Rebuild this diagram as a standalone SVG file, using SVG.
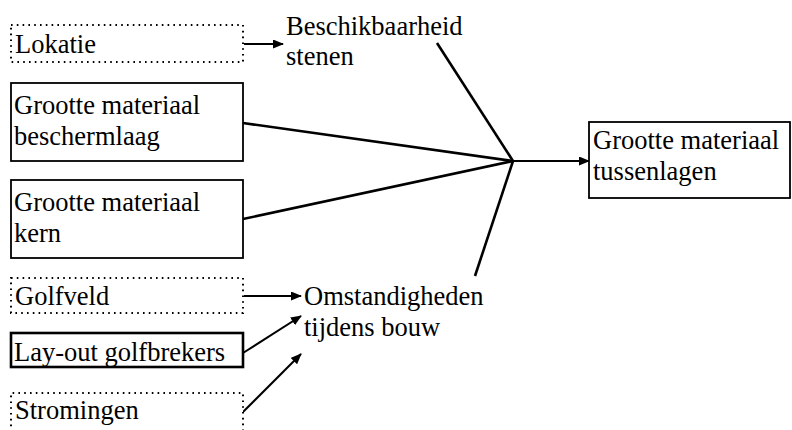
<svg xmlns="http://www.w3.org/2000/svg" width="792" height="430" viewBox="0 0 792 430">
  <defs>
    <marker id="arrow" markerWidth="11" markerHeight="9" refX="10" refY="4.5" orient="auto" markerUnits="userSpaceOnUse">
      <path d="M0,0 L11,4.5 L0,9 Z" fill="#000"/>
    </marker>
  </defs>
  <style>
    .box { fill: #fff; stroke: #000; stroke-width: 1.8; }
    .dot { fill: #fff; stroke: #000; stroke-width: 2; stroke-dasharray: 1.6 4.2; }
    .thick { stroke-width: 2.6; }
    .link { stroke: #000; stroke-width: 2.6; fill: none; }
    .arr { stroke: #000; stroke-width: 2; fill: none; marker-end: url(#arrow); }
  </style>
  <rect width="792" height="430" fill="#fff"/>

  <!-- connectors: inputs converge on one junction, then feed the result box -->
  <g id="connectors">
    <line class="arr" x1="244" y1="44" x2="283" y2="44"/>
    <line class="link" x1="437" y1="43" x2="513" y2="161"/>
    <line class="link" x1="243" y1="123" x2="513" y2="161"/>
    <line class="link" x1="243" y1="219" x2="513" y2="161"/>
    <line class="link" x1="513" y1="161" x2="475" y2="276"/>
    <line class="arr" x1="513" y1="161" x2="589" y2="161"/>
    <line class="arr" x1="244" y1="296" x2="301" y2="296"/>
    <line class="arr" x1="243" y1="353" x2="301" y2="316"/>
    <line class="arr" x1="243" y1="412" x2="301" y2="354"/>
  </g>

  <g font-family="'Liberation Serif', 'Times New Roman', serif" font-size="26.5" fill="#000">
    <g id="lokatie">
      <rect class="dot" x="11" y="25" width="232" height="37"/>
      <text x="15" y="53">Lokatie</text>
    </g>
    <g id="beschikbaarheid">
      <text x="286" y="35">Beschikbaarheid</text>
      <text x="286" y="65">stenen</text>
    </g>
    <g id="beschermlaag">
      <rect class="box" x="11" y="83" width="232" height="78"/>
      <text x="14" y="114">Grootte materiaal</text>
      <text x="14" y="145">beschermlaag</text>
    </g>
    <g id="kern">
      <rect class="box" x="11" y="180" width="232" height="78"/>
      <text x="14" y="211">Grootte materiaal</text>
      <text x="14" y="242">kern</text>
    </g>
    <g id="tussenlagen">
      <rect class="box" x="589" y="122" width="201" height="76"/>
      <text x="593" y="149">Grootte materiaal</text>
      <text x="593" y="180">tussenlagen</text>
    </g>
    <g id="golfveld">
      <rect class="dot" x="11" y="278" width="232" height="35"/>
      <text x="15" y="305">Golfveld</text>
    </g>
    <g id="omstandigheden">
      <text x="304" y="305">Omstandigheden</text>
      <text x="304" y="336">tijdens bouw</text>
    </g>
    <g id="layout">
      <rect class="box thick" x="11" y="333" width="232" height="34"/>
      <text x="14" y="361">Lay-out golfbrekers</text>
    </g>
    <g id="stromingen">
      <path class="dot" d="M11,432 V393 H243 V432"/>
      <text x="15" y="419">Stromingen</text>
    </g>
  </g>
</svg>
